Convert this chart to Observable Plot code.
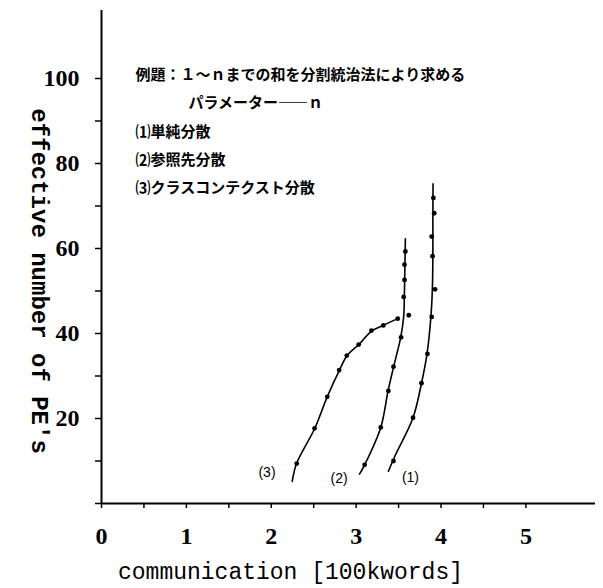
<!DOCTYPE html>
<html><head><meta charset="utf-8">
<script src="https://cdn.jsdelivr.net/npm/d3@7"></script>
<script src="https://cdn.jsdelivr.net/npm/@observablehq/plot@0.6"></script>
<style>body{margin:0;background:#fff}</style>
</head><body><div id="chart"></div>
<script>
// Series names
const seriesNames = ["(1)", "(2)", "(3)"];

// Measured points (communication [100kwords], effective number of PE's)
const pts1X = [3.44, 3.67, 3.77, 3.84, 3.89, 3.93, 3.90, 3.89, 3.92, 3.91];
const pts1Y = [10.0, 20.2, 28.3, 35.2, 43.9, 50.4, 58.2, 62.8, 68.3, 71.9];
const pts2X = [3.10, 3.29, 3.38, 3.44, 3.53, 3.62, 3.56, 3.57, 3.57, 3.58];
const pts2Y = [9.1, 17.9, 26.5, 32.2, 39.1, 44.3, 48.6, 52.6, 56.2, 59.3];
const pts3X = [2.30, 2.51, 2.66, 2.80, 2.89, 3.03, 3.18, 3.32, 3.49];
const pts3Y = [9.4, 17.7, 25.1, 31.4, 34.8, 37.4, 40.7, 41.9, 43.5];

// Hand-drawn fitted curves
const line1X = [3.38, 3.46, 3.67, 3.77, 3.835, 3.88, 3.898, 3.904, 3.904, 3.906];
const line1Y = [7.6, 11.3, 20.2, 28.3, 35.2, 43.7, 50.4, 58.4, 66.9, 75.2];
const line2X = [3.04, 3.10, 3.29, 3.376, 3.442, 3.525, 3.56, 3.568, 3.574, 3.58];
const line2Y = [6.9, 9.1, 17.9, 26.5, 32.2, 39.1, 44.0, 48.7, 55.1, 62.3];
const line3X = [2.247, 2.298, 2.513, 2.659, 2.804, 2.894, 3.031, 3.18, 3.318, 3.489];
const line3Y = [5.2, 9.4, 17.7, 25.1, 31.4, 34.8, 37.4, 40.5, 41.9, 43.5];

// Curve label anchors
const labelX = [3.64, 2.80, 1.95];
const labelY = [6.2, 5.8, 7.4];

// Axis ticks and labels
const xTicks = [0, 0.5, 1, 1.5, 2, 2.5, 3, 3.5, 4, 4.5, 5];
const xLabels = [0, 1, 2, 3, 4, 5];
const yTicks = [0, 10, 20, 30, 40, 50, 60, 70, 80, 90, 100];
const yLabels = [20, 40, 60, 80, 100];

const xTitle = "communication [100kwords]";
const yTitle = "effective number of PE's";
const noteLines = [
  "例題：１～ｎまでの和を分割統治法により求める",
  "パラメーター――ｎ",
  "⑴単純分散",
  "⑵参照先分散",
  "⑶クラスコンテクスト分散"
];

const zip = (xs, ys, s) => xs.map((x, i) => ({x, y: ys[i], s}));
const points = [
  ...zip(pts1X, pts1Y, seriesNames[0]),
  ...zip(pts2X, pts2Y, seriesNames[1]),
  ...zip(pts3X, pts3Y, seriesNames[2])
];
const lines = [
  ...zip(line1X, line1Y, seriesNames[0]),
  ...zip(line2X, line2Y, seriesNames[1]),
  ...zip(line3X, line3Y, seriesNames[2])
];
const labels = seriesNames.map((s, i) => ({s, x: labelX[i], y: labelY[i]}));

const cjk = "'Noto Sans CJK JP', sans-serif";
const noteStyle = {frameAnchor: "top-left", textAnchor: "start", lineAnchor: "middle",
  fontSize: 15, fontFamily: cjk, fontWeight: "bold", text: d => d};
const serif = "'Liberation Serif', serif";
const mono = "'Liberation Mono', monospace";

const chart = Plot.plot({
  width: 603, height: 588,
  marginLeft: 101, marginRight: 8, marginTop: 10, marginBottom: 85,
  x: {domain: [0, 5.82]},
  y: {domain: [0, 116]},
  style: {background: "white", color: "black"},
  marks: [
    Plot.axisX(xTicks, {tickSize: 5, tickFormat: () => "", strokeWidth: 1.5, label: null}),
    Plot.axisX(xLabels, {tickSize: 0, tickPadding: 23, tickFormat: d => d, fontSize: 24,
      fontFamily: serif, fontWeight: "bold", label: null}),
    Plot.axisY(yTicks, {tickSize: 6, tickFormat: () => "", strokeWidth: 1.5, label: null}),
    Plot.axisY(yLabels, {tickSize: 0, tickPadding: 22, tickFormat: d => d, fontSize: 24,
      fontFamily: serif, fontWeight: "bold", label: null}),
    Plot.ruleX([0], {stroke: "black", strokeWidth: 2}),
    Plot.ruleY([0], {stroke: "black", strokeWidth: 2}),
    Plot.line(lines, {x: "x", y: "y", z: "s", curve: "catmull-rom", stroke: "black", strokeWidth: 1.6}),
    Plot.dot(points, {x: "x", y: "y", r: 2.4, fill: "black", stroke: "none"}),
    Plot.text(labels, {x: "x", y: "y", text: "s", fontSize: 14, fontFamily: "'Liberation Sans', sans-serif"}),
    Plot.text([noteLines[0]], {...noteStyle, dx: 34, dy: 65}),
    Plot.text([noteLines[1]], {...noteStyle, dx: 87, dy: 93}),
    Plot.text([noteLines[2]], {...noteStyle, dx: 34, dy: 122}),
    Plot.text([noteLines[3]], {...noteStyle, dx: 34, dy: 150}),
    Plot.text([noteLines[4]], {...noteStyle, dx: 34, dy: 178}),
    Plot.text([xTitle], {frameAnchor: "bottom", textAnchor: "middle", dx: -58, dy: 68, lineAnchor: "middle",
      fontSize: 23, fontFamily: mono, text: d => d}),
    Plot.text([yTitle], {frameAnchor: "left", textAnchor: "middle", dx: -62, dy: 24, rotate: 90, lineAnchor: "middle",
      fontSize: 24, fontFamily: mono, fontWeight: "bold", text: d => d})
  ]
});
document.getElementById("chart").append(chart);
</script>
</body></html>
